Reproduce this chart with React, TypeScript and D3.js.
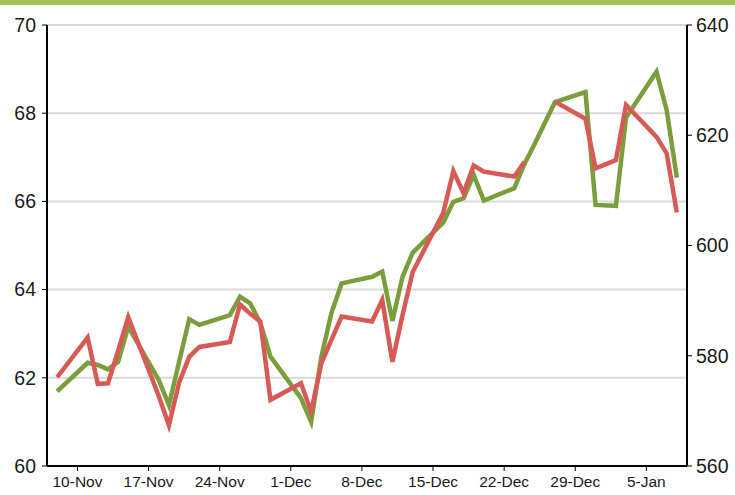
import React, { useEffect } from 'react';
import * as d3 from 'd3';

// trading days, Nov 2013 - Jan 2014 (Jan 1 left out)
const dates = [
  '2013-11-08',
  '2013-11-11', '2013-11-12', '2013-11-13', '2013-11-14', '2013-11-15',
  '2013-11-18', '2013-11-19', '2013-11-20', '2013-11-21', '2013-11-22',
  '2013-11-25', '2013-11-26', '2013-11-27', '2013-11-28', '2013-11-29',
  '2013-12-02', '2013-12-03', '2013-12-04', '2013-12-05', '2013-12-06',
  '2013-12-09', '2013-12-10', '2013-12-11', '2013-12-12', '2013-12-13',
  '2013-12-16', '2013-12-17', '2013-12-18', '2013-12-19', '2013-12-20',
  '2013-12-23', '2013-12-24', '2013-12-25', '2013-12-26', '2013-12-27',
  '2013-12-30', '2013-12-31', '2014-01-02', '2014-01-03',
  '2014-01-06', '2014-01-07', '2014-01-08',
];

// green series, left axis
const greenValues = [
  61.69,
  62.34, 62.29, 62.19, 62.36, 63.16,
  61.95, 61.38, 62.36, 63.33, 63.20,
  63.42, 63.84, 63.69, 63.24, 62.48,
  61.54, 61.00, 62.47, 63.47, 64.14,
  64.29, 64.41, 63.29, 64.29, 64.84,
  65.52, 65.99, 66.07, 66.60, 66.02,
  66.30, 66.85, 67.30, 67.78, 68.25,
  68.48, 65.92, 65.90, 67.90,
  68.94, 68.07, 66.54,
];

// red series, right axis (no values on 25/26 Dec)
const redValues: (number | null)[] = [
  576.1,
  583.3, 574.9, 575.0, 580.9, 587.0,
  572.7, 567.4, 575.1, 579.8, 581.6,
  582.5, 589.3, 587.6, 586.2, 572.0,
  575.0, 569.9, 578.6, 582.9, 587.1,
  586.2, 590.1, 578.9, 587.4, 595.2,
  605.9, 613.5, 609.5, 614.5, 613.4,
  612.5, 615.2, null, null, 626.1,
  623.0, 614.0, 615.5, 625.5,
  619.7, 616.7, 606.0,
];

const leftTicks = [60, 62, 64, 66, 68, 70];
const rightTicks = [560, 580, 600, 620, 640];

export default function App() {
  useEffect(() => {
    document.body.style.margin = '0';
  }, []);

  const width = 735;
  const height = 495;
  const left = 47;
  const right = 687;
  const top = 25;
  const bottom = 466;

  const parse = d3.timeParse('%Y-%m-%d');
  const days = dates.map((d) => parse(d) as Date);

  const x = d3.scaleTime()
    .domain([parse('2013-11-07') as Date, parse('2014-01-09') as Date])
    .range([left, right]);
  const yLeft = d3.scaleLinear().domain([60, 70]).range([bottom, top]);
  const yRight = d3.scaleLinear().domain([560, 640]).range([bottom, top]);

  const xTicks = x.ticks(d3.timeWeek.every(1) as any);
  const fmt = d3.timeFormat('%-d-%b');

  const greenLine = d3.line<number>()
    .x((d, i) => x(days[i]))
    .y((d) => yLeft(d));
  const redLine = d3.line<number | null>()
    .defined((d) => d !== null)
    .x((d, i) => x(days[i]))
    .y((d) => yRight(d as number));

  const font = '"Liberation Sans", Arial, sans-serif';

  return (
    <svg width={width} height={height} style={{ display: 'block', background: '#fff' }}>
      <rect x={0} y={0} width={width} height={5} fill="#a3c05a" />

      {leftTicks.map((t) => (
        <line key={'g' + t} x1={left} x2={right} y1={yLeft(t)} y2={yLeft(t)}
          stroke="#d9d9d9" strokeWidth={2} />
      ))}

      <path d={greenLine(greenValues) || ''} fill="none" stroke="#7b9e3c" strokeWidth={4.5} />
      <path d={redLine(redValues) || ''} fill="none" stroke="#d85a57" strokeWidth={4.5} />

      {/* left axis */}
      <line x1={left} x2={left} y1={top} y2={bottom} stroke="#000" strokeWidth={2} />
      {leftTicks.map((t) => (
        <g key={'l' + t}>
          <line x1={left - 5} x2={left} y1={yLeft(t)} y2={yLeft(t)} stroke="#000" strokeWidth={1} />
          <text x={left - 11} y={yLeft(t)} dy="0.35em" textAnchor="end"
            fontFamily={font} fontSize={19.5} fill="#1a1a1a">{t}</text>
        </g>
      ))}

      {/* right axis */}
      <line x1={right} x2={right} y1={top} y2={bottom} stroke="#000" strokeWidth={2} />
      {rightTicks.map((t) => (
        <g key={'r' + t}>
          <line x1={right} x2={right + 5} y1={yRight(t)} y2={yRight(t)} stroke="#000" strokeWidth={1} />
          <text x={right + 9} y={yRight(t)} dy="0.35em" textAnchor="start"
            fontFamily={font} fontSize={19.5} fill="#1a1a1a">{t}</text>
        </g>
      ))}

      {/* bottom axis */}
      <line x1={left} x2={right} y1={bottom} y2={bottom} stroke="#000" strokeWidth={2} />
      {xTicks.map((t) => (
        <g key={'x' + t.getTime()}>
          <line x1={x(t)} x2={x(t)} y1={bottom} y2={bottom + 5} stroke="#000" strokeWidth={1} />
          <text x={x(t)} y={bottom + 21} textAnchor="middle"
            fontFamily={font} fontSize={15.5} fill="#1a1a1a">{fmt(t)}</text>
        </g>
      ))}
    </svg>
  );
}
